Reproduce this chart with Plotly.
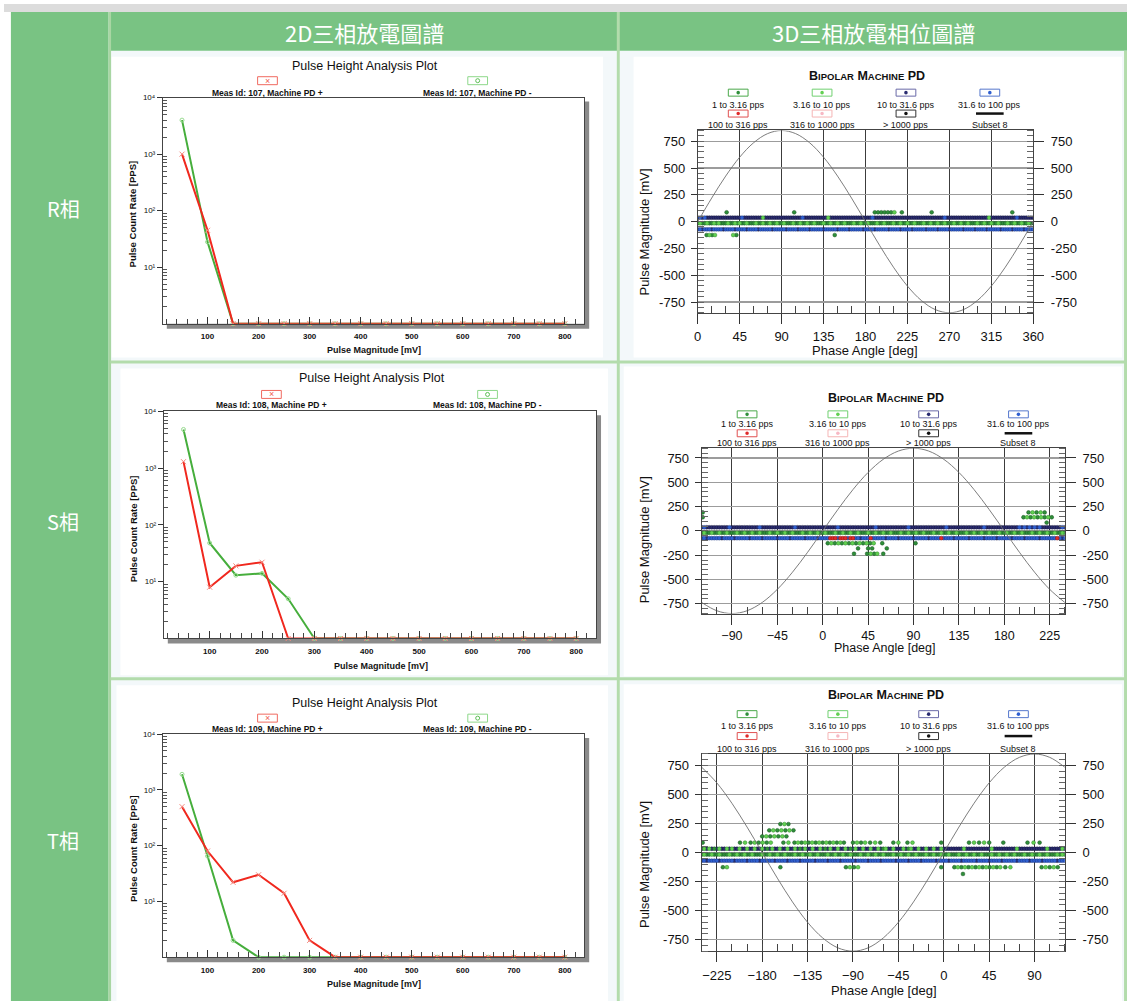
import plotly.graph_objects as go

W, H = 1138, 1001

# ---------------- text ----------------
HEADERS = ["2D三相放電圖譜", "3D三相放電相位圖譜"]
ROW_LABELS = ["R相", "S相", "T相"]
MEAS_IDS = [107, 108, 109]
TITLE_2D = "Pulse Height Analysis Plot"
CLASS_NAMES = ["1 to 3.16 pps", "3.16 to 10 pps", "10 to 31.6 pps", "31.6 to 100 pps",
               "100 to 316 pps", "316 to 1000 pps", "> 1000 pps", "Subset 8"]
CLASS_CODES = ["g", "G", "N", "B", "R", "P", "K", "S"]

# ---------------- 2D pulse height data ----------------
PULSE_MAG_MV = [50, 100, 150, 200, 250, 300, 350, 400, 450, 500, 550, 600, 650, 700, 750, 800]
R_PD_PLUS = [1000, 45, 1, 1, 1, 1, 1, 1, 1, 1, 1, 1, 1, 1, 1, 1]
R_PD_MINUS = [4000, 28, 1, 1, 1, 1, 1, 1, 1, 1, 1, 1, 1, 1, 1, 1]
S_PD_PLUS = [1300, 8, 19, 22, 1, 1, 1, 1, 1, 1, 1, 1, 1, 1, 1, 1]
S_PD_MINUS = [4800, 48, 13, 14, 5, 1, 1, 1, 1, 1, 1, 1, 1, 1, 1, 1]
T_PD_PLUS = [500, 80, 22, 30, 14, 2, 1, 1, 1, 1, 1, 1, 1, 1, 1, 1]
T_PD_MINUS = [1900, 65, 2, 1, 1, 1, 1, 1, 1, 1, 1, 1, 1, 1, 1, 1]
X_TICKS_2D = [100, 200, 300, 400, 500, 600, 700, 800]
Y_TICKS_2D = [10, 100, 1000, 10000]
Y_TICKTEXT_2D = ["10¹", "10²", "10³", "10⁴"]
Y_MINOR_2D = [2, 3, 4, 5, 6, 7, 8, 9, 20, 30, 40, 50, 60, 70, 80, 90,
              200, 300, 400, 500, 600, 700, 800, 900, 2000, 3000, 4000, 5000, 6000, 7000, 8000, 9000]

# ---------------- 3D phase resolved data ----------------
PHASE_BIN = 2.5
R_PHASE_RANGE = [0, 360]
S_PHASE_RANGE = [-120, 240]
T_PHASE_RANGE = [-240, 120]
Y_TICKS_3D = [-750, -500, -250, 0, 250, 500, 750]
Y_TICKTEXT_3D = ["-750", "-500", "-250", "0", "250", "500", "750"]

# reference sine (Subset 8), read every 15 deg
R_SINE_DEG = [0, 15, 30, 45, 60, 75, 90, 105, 120, 135, 150, 165, 180, 195, 210, 225, 240, 255, 270, 285, 300, 315, 330, 345, 360]
R_SINE_MV = [0, 220, 425, 601, 736, 821, 850, 821, 736, 601, 425, 220, 0, -220, -425, -601, -736, -821, -850, -821, -736, -601, -425, -220, 0]
S_SINE_DEG = [-120, -105, -90, -75, -60, -45, -30, -15, 0, 15, 30, 45, 60, 75, 90, 105, 120, 135, 150, 165, 180, 195, 210, 225, 240]
S_SINE_MV = [-736, -821, -850, -821, -736, -601, -425, -220, 0, 220, 425, 601, 736, 821, 850, 821, 736, 601, 425, 220, 0, -220, -425, -601, -736]
T_SINE_DEG = [-240, -225, -210, -195, -180, -165, -150, -135, -120, -105, -90, -75, -60, -45, -30, -15, 0, 15, 30, 45, 60, 75, 90, 105, 120]
T_SINE_MV = [736, 601, 425, 220, 0, -220, -425, -601, -736, -821, -850, -821, -736, -601, -425, -220, 0, 220, 425, 601, 736, 821, 850, 821, 736]

# main (continuous) bands: magnitude, base class, {class: phases that differ}
R_BANDS = [
    (37, "N", {"B": [2.5, 7.5, 47.5, 112.5, 187.5, 265, 342.5], "G": [70, 140, 312.5]}),
    (-15, "g", {"G": [2.5, 10, 17.5, 22.5, 32.5, 40, 45, 52.5, 62.5, 70, 77.5, 85, 92.5, 102.5, 110, 117.5,
                      125, 135, 142.5, 150, 157.5, 167.5, 175, 182.5, 192.5, 200, 210, 217.5, 225, 232.5,
                      242.5, 250, 257.5, 265, 275, 282.5, 290, 300, 307.5, 315, 322.5, 332.5, 340, 347.5, 355]}),
    (-72, "B", {"N": [5, 15, 27.5, 40, 52.5, 65, 80, 95, 107.5, 120, 135, 150, 162.5, 177.5, 190, 205,
                      217.5, 230, 245, 257.5, 270, 285, 297.5, 310, 325, 337.5, 350]}),
]
R_ISOLATED = [
    (87, "g", [31, 103.5, 190, 193.5, 197, 200.5, 204, 207.5, 219, 251, 337.5]),
    (87, "G", [211]),
    (-125, "g", [9.5, 15.5, 41.5, 147]),
    (-125, "G", [12.5, 18.5, 38]),
]

S_BANDS = [
    (37, "N", {"B": [-117.5, -92.5, -62.5, -27.5, 15, 52.5, 85, 122.5, 160, 195, 200, 205, 210, 215, 237.5]}),
    (-20, "g", {"G": [-117.5, -110, -102.5, -95, -85, -77.5, -70, -62.5, -52.5, -45, -37.5, -30, -20, -12.5,
                      -5, 2.5, 12.5, 20, 27.5, 35, 45, 52.5, 60, 67.5, 77.5, 85, 92.5, 100, 110, 117.5, 125,
                      132.5, 142.5, 150, 157.5, 165, 175, 182.5, 190, 197.5, 207.5, 215, 222.5, 230, 237.5]}),
    (-75, "B", {"N": [-115, -100, -87.5, -72.5, -60, -45, -32.5, -17.5, -5, 37.5, 62.5, 75, 90, 105, 130,
                      145, 160, 172.5, 187.5, 200, 215, 237.5],
                "R": [7.5, 10, 12.5, 17.5, 20, 22.5, 27.5, 30, 47.5, 117.5, 232.5]}),
]
S_ISOLATED = [
    (190, "g", [-119, 204, 212, 220]),
    (190, "G", [208, 216]),
    (140, "g", [-119, 199, 206, 213, 220, 227]),
    (140, "G", [202.5, 209.5, 216.5, 223.5]),
    (85, "g", [222]),
    (-127, "g", [5, 12, 19, 26, 33, 40, 47, 59, 92]),
    (-127, "G", [8.5, 15.5, 22.5, 29.5, 36.5, 43.5, 50.5]),
    (-180, "g", [35, 45, 49, 63.5]),
    (-235, "g", [31, 44, 51, 60]),
    (-235, "G", [47.5, 54]),
]

T_BANDS = [
    (33, "N", {"G": [-237.5, -232.5, -222.5, -215, -210, -202.5, -195, -187.5, -180, -170, -162.5, -155,
                     -147.5, -137.5, -130, -122.5, -112.5, -105, -97.5, -87.5, -80, -72.5, -65, -57.5, -50,
                     -40, -32.5, -25, -17.5, -10, -2.5, 20, 47.5, 72.5, 102.5, 117.5],
               "g": [-227.5, -175, -142.5, -117.5, -92.5, -60, -35]}),
    (-17, "g", {"G": [-237.5, -230, -222.5, -212.5, -205, -197.5, -190, -180, -172.5, -165, -157.5, -147.5,
                      -140, -132.5, -125, -115, -107.5, -100, -92.5, -82.5, -75, -67.5, -60, -50, -42.5, -35,
                      -27.5, -17.5, -10, -2.5, 5, 15, 22.5, 30, 37.5, 47.5, 55, 62.5, 70, 80, 87.5, 95,
                      102.5, 112.5, 117.5]}),
    (-70, "B", {"N": [-235, -222.5, -207.5, -195, -182.5, -167.5, -155, -142.5, -127.5, -115, -102.5, -87.5,
                      -75, -62.5, -47.5, -35, -22.5, -7.5, 5, 17.5, 32.5, 45, 57.5, 72.5, 85, 97.5, 112.5]}),
]
T_ISOLATED = [
    (246, "g", [-162, -154]),
    (246, "G", [-158]),
    (192, "g", [-173, -165, -157, -149]),
    (192, "G", [-169, -161, -153]),
    (140, "g", [-180, -172, -164, -156]),
    (140, "G", [-176, -168, -160]),
    (86, "g", [-239, -202, -191.5, -183.5, -175.5, -159, -148, -141, -134, -127, -120, -113, -106, -99,
               -90, -82, -73, -63, -50, -36, -2.5, 25, 35, 45, 59, 83, 95]),
    (86, "G", [-197, -187.5, -179.5, -171.5, -154, -144.5, -137.5, -130.5, -123.5, -116.5, -109.5, -102.5,
               -86, -78, -68, -45, -31, 30, 40, 89]),
    (-126, "g", [-219, -162, -97, -89, -2.5, 10.5, 17.5, 24.5, 31.5, 38.5, 45.5, 52.5, 61, 97, 105, 113]),
    (-126, "G", [-215, -93, -85, 14, 21, 28, 35, 42, 49, 56, 66, 101, 109]),
    (-184, "g", [19]),
]

# ---------------- styling ----------------
FONT = "Liberation Sans, Arial, Helvetica, sans-serif"
CJK = "Noto Sans CJK TC, Noto Sans CJK SC, sans-serif"
GREEN_BG = "#79c383"
SEP = "#b3dcac"
CLS_FILL = {"g": "#2f8f3a", "G": "#62d052", "N": "#2a2c70", "B": "#2f5fd0",
            "R": "#e02a2a", "P": "#f7b8c4", "K": "#111111"}
CLS_EDGE = {"g": "#1a5522", "G": "#2f862a", "N": "#121338", "B": "#1a3580",
            "R": "#8a1010", "P": "#c07080", "K": "#000000"}
CLS_BOX = {"g": "#4aa84a", "G": "#70d070", "N": "#6a6aa8", "B": "#5577cc",
           "R": "#e05050", "P": "#f5b5b5", "K": "#333333"}

GEOM_2D = [
    dict(box=(161, 94, 588, 321), title=(366, 62), leg_y=77, lab_y=89, leg_x=(267, 480), xt=(375, 347), yt=(130, 211)),
    dict(box=(162, 409, 600, 637), title=(373, 376), leg_y=392, lab_y=403, leg_x=(271, 490), xt=(382, 665), yt=(132, 527)),
    dict(box=(161, 733, 588, 957), title=(366, 702), leg_y=717, lab_y=728, leg_x=(267, 480), xt=(375, 984), yt=(131, 848)),
]
GEOM_3D = [
    dict(box=(703, 127, 1043, 310), title=(875, 72), cols=(744, 829, 914, 999), rows=(89, 101, 110, 121),
         xt=(873, 348), yt=(649, 229), xstand=2, xsize=13),
    dict(box=(707, 446, 1075, 612), title=(894, 396), cols=(753, 845, 937, 1028), rows=(412, 422, 431, 441),
         xt=(892, 647), yt=(649, 538), xstand=0, xsize=12.5),
    dict(box=(707, 753, 1075, 951), title=(894, 694), cols=(753, 845, 937, 1028), rows=(713, 725, 735, 748),
         xt=(892, 990), yt=(649, 864), xstand=2, xsize=13),
]

shapes, annots = [], []


def rect(x0, y0, x1, y1, fill="rgba(0,0,0,0)", line="rgba(0,0,0,0)", lw=0):
    shapes.append(dict(type="rect", xref="paper", yref="paper", x0=x0 / W, x1=x1 / W,
                       y0=1 - y1 / H, y1=1 - y0 / H, fillcolor=fill,
                       line=dict(color=line, width=lw), layer="below"))


def circle(cx, cy, r, fill, line="rgba(0,0,0,0)", lw=0):
    shapes.append(dict(type="circle", xref="paper", yref="paper", x0=(cx - r) / W, x1=(cx + r) / W,
                       y0=1 - (cy + r) / H, y1=1 - (cy - r) / H, fillcolor=fill,
                       line=dict(color=line, width=lw), layer="below"))


def hline(x0, x1, y, color, width):
    shapes.append(dict(type="line", xref="paper", yref="paper", x0=x0 / W, x1=x1 / W,
                       y0=1 - y / H, y1=1 - y / H, line=dict(color=color, width=width), layer="below"))


def text(x, y, s, size, color="#111", family=FONT, angle=0, weight="normal"):
    annots.append(dict(x=x / W, y=1 - y / H, xref="paper", yref="paper", text=s, showarrow=False,
                       font=dict(size=size, color=color, family=family, weight=weight), xanchor="center",
                       yanchor="middle", textangle=angle))


# ---------------- page background ----------------
rect(0, 0, W, 8, fill="#dcdcdc")
rect(107, 47, W, H, fill="#f3f8fa")
for (x0, y0, x1, y1) in [(109, 53, 607, 355), (638, 53, 1133, 355), (118, 366, 612, 674),
                         (628, 364, 1133, 675), (114, 684, 612, H), (628, 683, 1133, H)]:
    rect(x0, y0, x1, y1, fill="#ffffff")
rect(7, 8, 106, H, fill=GREEN_BG)
rect(108, 8, W, 47, fill=GREEN_BG)
rect(106, 8, 108.5, H, fill="#a9d6a3")
rect(621, 8, 624, H, fill=SEP)
rect(1135, 47, W, H, fill=SEP)
rect(108, 358, W, 361, fill=SEP)
rect(108, 676, W, 679, fill=SEP)

text(365, 28, HEADERS[0], 22, color="#ffffff", family=CJK)
text(881, 28, HEADERS[1], 22, color="#ffffff", family=CJK)
for lab, yy in zip(ROW_LABELS, [205, 520, 840]):
    text(60, yy, lab, 20, color="#ffffff", family=CJK)

fig = go.Figure()
layout_axes = {}

# ---------------- 2D pulse height plots ----------------
DATA_2D = [(R_PD_PLUS, R_PD_MINUS), (S_PD_PLUS, S_PD_MINUS), (T_PD_PLUS, T_PD_MINUS)]
for i, (g, (plus, minus)) in enumerate(zip(GEOM_2D, DATA_2D)):
    n = i + 1
    sx = "" if n == 1 else str(n)
    x0, y0, x1, y1 = g["box"]
    rect(x0 + 4, y0 + 4, x1 + 5, y1 + 5, fill="#8a8a8a")
    rect(x0, y0, x1, y1, fill="#ffffff")
    fig.add_trace(go.Scatter(x=PULSE_MAG_MV, y=minus, mode="lines+markers",
                             line=dict(color="#46ae3c", width=2),
                             marker=dict(symbol="circle-open", size=4, color="#9adc92", line=dict(width=1)),
                             xaxis="x" + sx, yaxis="y" + sx, cliponaxis=False, hoverinfo="skip"))
    fig.add_trace(go.Scatter(x=PULSE_MAG_MV, y=plus, mode="lines+markers",
                             line=dict(color="#f0281e", width=2),
                             marker=dict(symbol="x-thin", size=5, line=dict(width=1, color="#f58a80")),
                             xaxis="x" + sx, yaxis="y" + sx, cliponaxis=False, hoverinfo="skip"))
    layout_axes["xaxis" + sx] = dict(
        domain=[x0 / W, x1 / W], anchor="y" + sx, range=[12.5, 838],
        tickmode="array", tickvals=X_TICKS_2D, ticktext=[str(v) for v in X_TICKS_2D],
        ticks="inside", ticklen=7, tickcolor="#333", tickwidth=1, ticklabelstandoff=5,
        tickfont=dict(family=FONT, size=8, color="#111", weight="bold"),
        minor=dict(ticks="inside", ticklen=5, tick0=0, dtick=20, tickcolor="#444", showgrid=False),
        showgrid=False, zeroline=False, showline=True, linecolor="#444", linewidth=1, mirror=True)
    layout_axes["yaxis" + sx] = dict(
        domain=[1 - y1 / H, 1 - y0 / H], anchor="x" + sx, type="log", range=[0, 4],
        tickmode="array", tickvals=Y_TICKS_2D, ticktext=Y_TICKTEXT_2D,
        ticks="outside", ticklen=5, tickcolor="#333", tickfont=dict(family=FONT, size=8, color="#111"),
        minor=dict(tickmode="array", tickvals=Y_MINOR_2D, ticks="inside", ticklen=4, tickcolor="#555", showgrid=False),
        showgrid=False, zeroline=False, showline=True, linecolor="#444", linewidth=1, mirror=True)

    text(g["title"][0], g["title"][1], TITLE_2D, 12.5)
    for k, (lx, sign) in enumerate(zip(g["leg_x"], ["+", "-"])):
        if k == 0:
            rect(lx - 10, g["leg_y"] - 4, lx + 10, g["leg_y"] + 4, fill="#ffffff", line="#f06a60", lw=1)
            text(lx, g["leg_y"], "×", 9, color="#f05a50")
        else:
            rect(lx - 10, g["leg_y"] - 4, lx + 10, g["leg_y"] + 4, fill="#ffffff", line="#8ed88a", lw=1)
            circle(lx, g["leg_y"], 2, "#ffffff", line="#5cbf55", lw=1)
        text(lx, g["lab_y"], f"Meas Id: {MEAS_IDS[i]}, Machine PD {sign}", 8.5, weight="bold")
    text(g["xt"][0], g["xt"][1], "Pulse Magnitude [mV]", 9, weight="bold")
    text(g["yt"][0], g["yt"][1], "Pulse Count Rate [PPS]", 9.5, angle=-90, weight="bold")


# ---------------- 3D phase resolved plots ----------------
def band_points(prange, mag, base, exceptions):
    start, end = prange
    nb = int(round((end - start) / PHASE_BIN))
    phases = [start + PHASE_BIN * k for k in range(nb + 1)]
    classes = [base] * len(phases)
    for cls, plist in exceptions.items():
        for p in plist:
            idx = int(round((p - start) / PHASE_BIN))
            if 0 <= idx < len(classes):
                classes[idx] = cls
    return phases, classes


DATA_3D = [
    (R_PHASE_RANGE, R_BANDS, R_ISOLATED, R_SINE_DEG, R_SINE_MV),
    (S_PHASE_RANGE, S_BANDS, S_ISOLATED, S_SINE_DEG, S_SINE_MV),
    (T_PHASE_RANGE, T_BANDS, T_ISOLATED, T_SINE_DEG, T_SINE_MV),
]
for i, (g, (prange, bands, isolated, sdeg, smv)) in enumerate(zip(GEOM_3D, DATA_3D)):
    n = i + 4
    nr = i + 7
    x0, y0, x1, y1 = g["box"]
    rect(x0, y0, x1, y1, fill="#ffffff")
    pts = {c: ([], []) for c in CLS_FILL}
    for mag, base, exc in bands:
        ph, cl = band_points(prange, mag, base, exc)
        for p, c in zip(ph, cl):
            pts[c][0].append(p)
            pts[c][1].append(mag)
    for mag, c, plist in isolated:
        for p in plist:
            pts[c][0].append(p)
            pts[c][1].append(mag)
    for c in ["N", "B", "g", "G", "R", "P", "K"]:
        xs, ys = pts[c]
        if not xs:
            continue
        fig.add_trace(go.Scatter(x=xs, y=ys, mode="markers",
                                 marker=dict(size=3.8, color=CLS_FILL[c], line=dict(color=CLS_EDGE[c], width=0.5)),
                                 xaxis=f"x{n}", yaxis=f"y{n}", hoverinfo="skip"))
    fig.add_trace(go.Scatter(x=sdeg, y=smv, mode="lines", line=dict(color="#6e6e6e", width=0.9, shape="spline"),
                             xaxis=f"x{n}", yaxis=f"y{nr}", hoverinfo="skip"))
    common_y = dict(range=[-850, 850], tickmode="array", tickvals=Y_TICKS_3D, ticktext=Y_TICKTEXT_3D,
                    tickfont=dict(family=FONT, size=13, color="#111"), tickcolor="#333",
                    zeroline=False, showline=True, linecolor="#444", linewidth=1)
    layout_axes[f"xaxis{n}"] = dict(
        domain=[x0 / W, x1 / W], anchor=f"y{n}", range=prange, tick0=0, dtick=45,
        ticks="outside", ticklen=10, tickcolor="#333", ticklabelstandoff=g["xstand"],
        tickfont=dict(family=FONT, size=g["xsize"], color="#111"),
        showgrid=True, gridcolor="#3c3c3c", gridwidth=1,
        minor=dict(ticks="inside", ticklen=7, tick0=0, dtick=15, tickcolor="#444", showgrid=False),
        zeroline=False, showline=True, linecolor="#444", linewidth=1, mirror=True)
    layout_axes[f"yaxis{n}"] = dict(
        domain=[1 - y1 / H, 1 - y0 / H], anchor=f"x{n}", ticks="outside", ticklen=6, ticklabelstandoff=3,
        showgrid=True, gridcolor="#9c9c9c", gridwidth=1.3, mirror=True,
        minor=dict(ticks="inside", ticklen=6, tick0=0, dtick=50, tickcolor="#666", showgrid=False),
        **common_y)
    layout_axes[f"yaxis{nr}"] = dict(
        overlaying=f"y{n}", anchor=f"x{n}", side="right", ticks="outside", ticklen=10, ticklabelstandoff=4,
        showgrid=False,
        minor=dict(ticks="inside", ticklen=6, tick0=0, dtick=50, tickcolor="#666", showgrid=False),
        **common_y)

    text(g["title"][0], g["title"][1],
         "B<span style='font-size:9.5px'>IPOLAR</span> M<span style='font-size:9.5px'>ACHINE</span> PD",
         12.5, weight="bold")
    for k, code in enumerate(CLASS_CODES):
        cx = g["cols"][k % 4]
        by = g["rows"][0] if k < 4 else g["rows"][2]
        ly = g["rows"][1] if k < 4 else g["rows"][3]
        if code == "S":
            hline(cx - 14, cx + 14, by, "#111111", 2.5)
        else:
            rect(cx - 10, by - 3.5, cx + 10, by + 3.5, fill="#ffffff", line=CLS_BOX[code], lw=1)
            circle(cx, by, 1.8, CLS_FILL[code])
        text(cx, ly, CLASS_NAMES[k], 9)
    text(g["xt"][0], g["xt"][1], "Phase Angle [deg]", g["xsize"])
    text(g["yt"][0], g["yt"][1], "Pulse Magnitude [mV]", 13, angle=-90)

fig.update_layout(
    width=W, height=H, autosize=False, margin=dict(l=0, r=0, t=0, b=0),
    paper_bgcolor="#ffffff", plot_bgcolor="rgba(0,0,0,0)",
    showlegend=False, hovermode=False,
    shapes=shapes, annotations=annots, **layout_axes)

POST = ("var gd=document.getElementById('{plot_id}');"
        "document.documentElement.style.margin='0';document.documentElement.style.padding='0';"
        "document.body.style.margin='0';document.body.style.padding='0';document.body.style.overflow='hidden';"
        "gd.style.position='fixed';gd.style.left='0px';gd.style.top='0px';")
fig.write_html("out.html", config={"displayModeBar": False, "staticPlot": True}, post_script=POST)
